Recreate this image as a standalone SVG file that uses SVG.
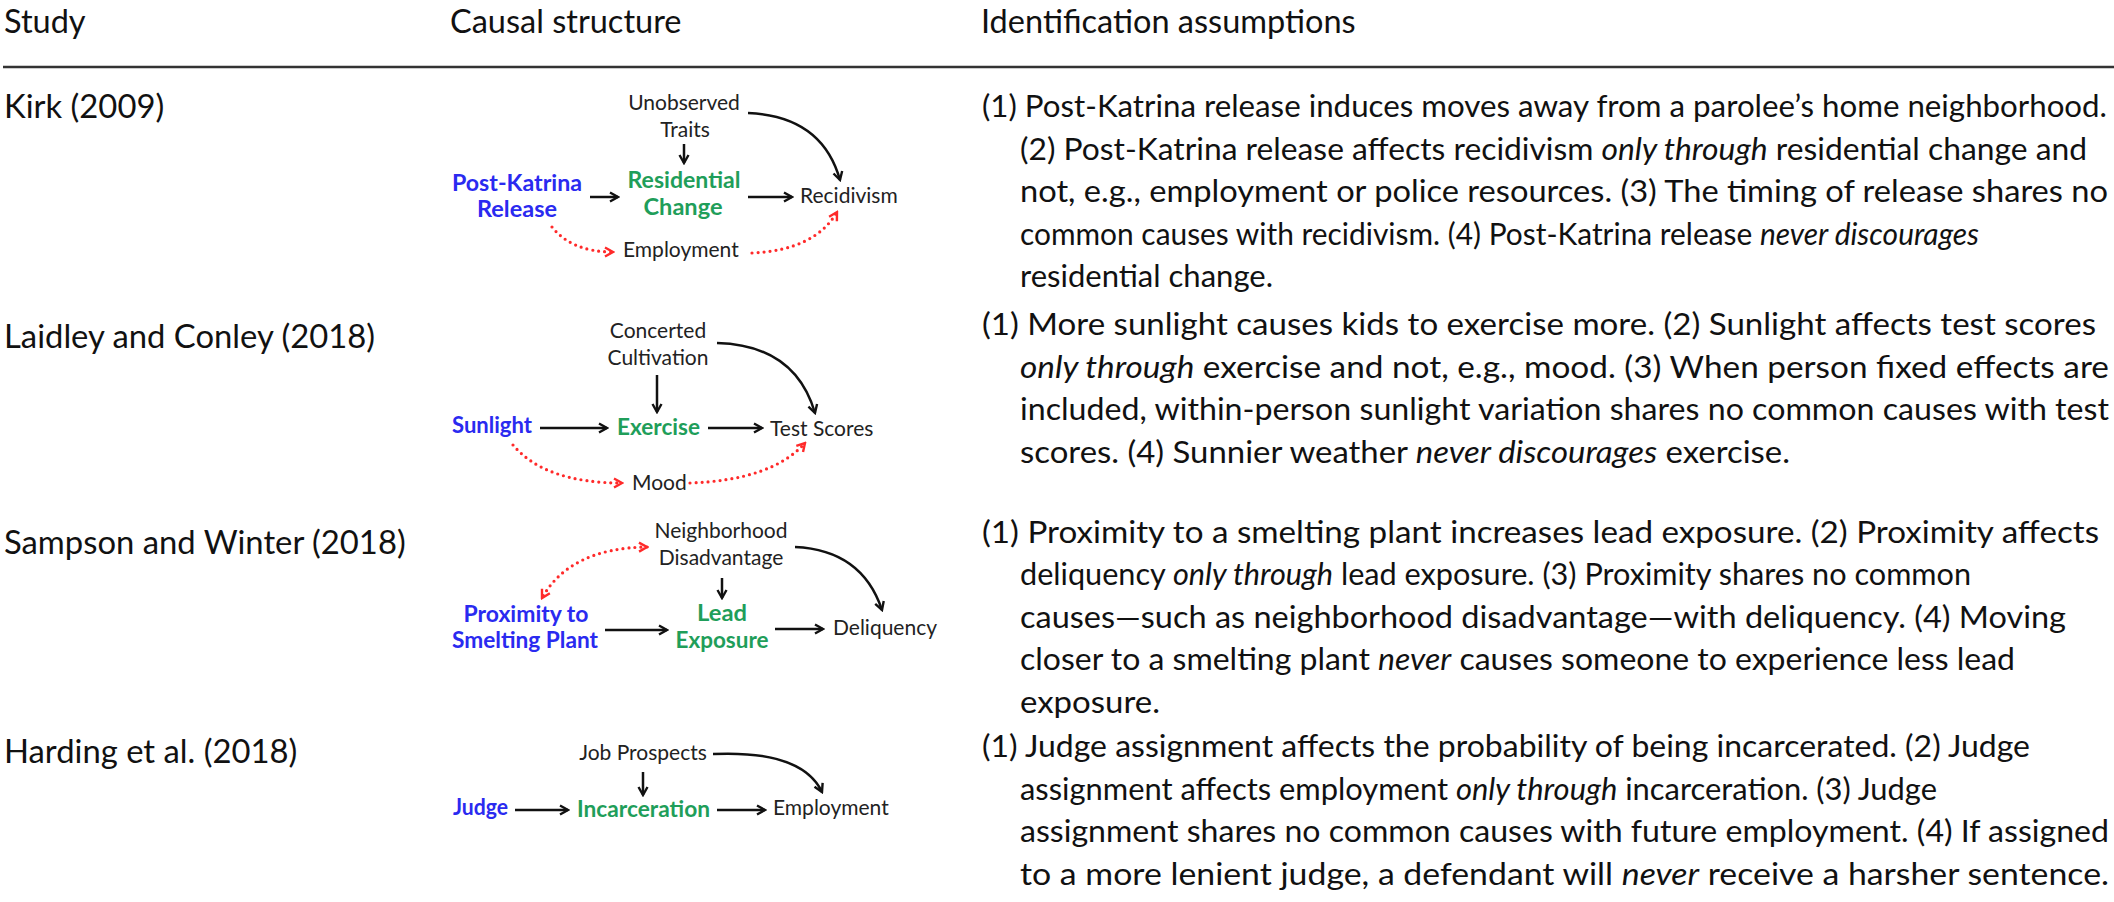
<svg xmlns="http://www.w3.org/2000/svg" width="2114" height="902" viewBox="0 0 2114 902">
<style>
.h{font-family:Lato,"Liberation Sans",sans-serif;font-size:32.5px;fill:#111}
.s{font-family:Lato,"Liberation Sans",sans-serif;font-size:32.8px;fill:#111}
.t{font-family:Lato,"Liberation Sans",sans-serif;font-size:31px;fill:#111}
.n{font-family:Lato,"Liberation Sans",sans-serif;font-size:21px;fill:#222}
.b{font-weight:bold;fill:#2a2af0;font-size:22px}
.g{font-weight:bold;fill:#1f9e5a;font-size:22px}
.c{text-anchor:middle}
.i{font-style:italic}
.k{fill:none;stroke:#111;stroke-width:2.5}
.r{fill:none;stroke:#ff2a2a;stroke-width:3.2;stroke-dasharray:0 6;stroke-linecap:round}
</style>
<defs>
<marker id="ak" viewBox="0 0 12 12" refX="10" refY="6" markerWidth="12" markerHeight="12" markerUnits="userSpaceOnUse" orient="auto-start-reverse"><path d="M2,1.5 L10,6 L2,10.5" fill="none" stroke="#111" stroke-width="2.4"/></marker>
<marker id="ar" viewBox="0 0 12 12" refX="10" refY="6" markerWidth="12" markerHeight="12" markerUnits="userSpaceOnUse" orient="auto-start-reverse"><path d="M2,1.5 L10,6 L2,10.5" fill="none" stroke="#ff2a2a" stroke-width="2.4"/></marker>
</defs>
<rect width="2114" height="902" fill="#fff"/>
<g id="header">
<text class="h" x="4" y="33">Study</text>
<text class="h" x="450" y="33">Causal structure</text>
<text class="h" x="981" y="33">Identification assumptions</text>
<line x1="3" y1="67" x2="2114" y2="67" stroke="#333" stroke-width="2.5"/>
</g>
<g id="studies">
<text class="s" x="4" y="118">Kirk (2009)</text>
<text class="s" x="4" y="348">Laidley and Conley (2018)</text>
<text class="s" x="4" y="554">Sampson and Winter (2018)</text>
<text class="s" x="4" y="763">Harding et al. (2018)</text>
</g>
<g id="n-unobs"><text class="n c" x="684" y="110">Unobserved</text><text class="n c" x="685" y="137">Traits</text></g>
<g id="n-pkr"><text class="n b c" x="517" y="191" textLength="130" lengthAdjust="spacingAndGlyphs">Post-Katrina</text><text class="n b c" x="517" y="217" textLength="80" lengthAdjust="spacingAndGlyphs">Release</text></g>
<g id="n-res"><text class="n g c" x="684" y="188" textLength="113" lengthAdjust="spacingAndGlyphs">Residential</text><text class="n g c" x="683" y="215" textLength="79" lengthAdjust="spacingAndGlyphs">Change</text></g>
<g id="n-recid"><text class="n" x="800" y="203">Recidivism</text></g>
<g id="n-emp1"><text class="n" x="623" y="257">Employment</text></g>
<g id="n-cc"><text class="n c" x="658" y="338">Concerted</text><text class="n c" x="658" y="365">Cultivation</text></g>
<g id="n-sun"><text class="n b" x="452" y="433" textLength="80" lengthAdjust="spacingAndGlyphs">Sunlight</text></g>
<g id="n-ex"><text class="n g" x="617" y="435" textLength="83" lengthAdjust="spacingAndGlyphs">Exercise</text></g>
<g id="n-ts"><text class="n" x="770" y="436">Test Scores</text></g>
<g id="n-mood"><text class="n" x="632" y="490">Mood</text></g>
<g id="n-nd"><text class="n c" x="721" y="538">Neighborhood</text><text class="n c" x="721" y="565">Disadvantage</text></g>
<g id="n-prox"><text class="n b c" x="526" y="622" textLength="125" lengthAdjust="spacingAndGlyphs">Proximity to</text><text class="n b c" x="525" y="648" textLength="146" lengthAdjust="spacingAndGlyphs">Smelting Plant</text></g>
<g id="n-lead"><text class="n g c" x="722" y="621" textLength="50" lengthAdjust="spacingAndGlyphs">Lead</text><text class="n g c" x="722" y="648" textLength="93" lengthAdjust="spacingAndGlyphs">Exposure</text></g>
<g id="n-del"><text class="n" x="833" y="635">Deliquency</text></g>
<g id="n-job"><text class="n c" x="643" y="760">Job Prospects</text></g>
<g id="n-judge"><text class="n b" x="453" y="815" textLength="55" lengthAdjust="spacingAndGlyphs">Judge</text></g>
<g id="n-inc"><text class="n g" x="577" y="817" textLength="133" lengthAdjust="spacingAndGlyphs">Incarceration</text></g>
<g id="n-emp2"><text class="n" x="773" y="815">Employment</text></g>
<g id="connectors">
<path class="k" d="M684,144 V163" marker-end="url(#ak)"/>
<path class="k" d="M590,197 H618" marker-end="url(#ak)"/>
<path class="k" d="M748,197 H792" marker-end="url(#ak)"/>
<path class="k" d="M748,113 Q822,116 840,180" marker-end="url(#ak)"/>
<path class="r" d="M552,227 Q572,252 613,252" marker-end="url(#ar)"/>
<path class="r" d="M752,253 Q815,250 837,212" marker-end="url(#ar)"/>
<path class="k" d="M657,375 V412" marker-end="url(#ak)"/>
<path class="k" d="M540,428 H607" marker-end="url(#ak)"/>
<path class="k" d="M708,428 H762" marker-end="url(#ak)"/>
<path class="k" d="M717,343 Q795,345 815,413" marker-end="url(#ak)"/>
<path class="r" d="M513,445 Q545,483 622,483" marker-end="url(#ar)"/>
<path class="r" d="M690,483 Q772,480 805,443" marker-end="url(#ar)"/>
<path class="k" d="M722,578 V598" marker-end="url(#ak)"/>
<path class="k" d="M605,630 H667" marker-end="url(#ak)"/>
<path class="k" d="M775,629 H823" marker-end="url(#ak)"/>
<path class="k" d="M795,547 Q862,550 882,610" marker-end="url(#ak)"/>
<path class="r" d="M647,547 Q570,548 542,598" marker-start="url(#ar)" marker-end="url(#ar)"/>
<path class="k" d="M713,754 Q802,750 822,792" marker-end="url(#ak)"/>
<path class="k" d="M643,772 V795" marker-end="url(#ak)"/>
<path class="k" d="M515,810 H568" marker-end="url(#ak)"/>
<path class="k" d="M717,810 H765" marker-end="url(#ak)"/>
</g>
<g id="assumptions">
<text class="t" x="982" y="117" textLength="1125" lengthAdjust="spacingAndGlyphs">(1) Post-Katrina release induces moves away from a parolee’s home neighborhood.</text>
<text class="t" x="1020" y="160" textLength="1067" lengthAdjust="spacingAndGlyphs">(2) Post-Katrina release affects recidivism <tspan class="i">only through</tspan> residential change and</text>
<text class="t" x="1020" y="202" textLength="1088" lengthAdjust="spacingAndGlyphs">not, e.g., employment or police resources. (3) The timing of release shares no</text>
<text class="t" x="1020" y="245" textLength="959" lengthAdjust="spacingAndGlyphs">common causes with recidivism. (4) Post-Katrina release <tspan class="i">never discourages</tspan></text>
<text class="t" x="1020" y="287" textLength="253" lengthAdjust="spacingAndGlyphs">residential change.</text>
<text class="t" x="982" y="335" textLength="1114" lengthAdjust="spacingAndGlyphs">(1) More sunlight causes kids to exercise more. (2) Sunlight affects test scores</text>
<text class="t" x="1020" y="378" textLength="1089" lengthAdjust="spacingAndGlyphs"><tspan class="i">only through</tspan> exercise and not, e.g., mood. (3) When person fixed effects are</text>
<text class="t" x="1020" y="420" textLength="1089" lengthAdjust="spacingAndGlyphs">included, within-person sunlight variation shares no common causes with test</text>
<text class="t" x="1020" y="463" textLength="770" lengthAdjust="spacingAndGlyphs">scores. (4) Sunnier weather <tspan class="i">never discourages</tspan> exercise.</text>
<text class="t" x="982" y="543" textLength="1117" lengthAdjust="spacingAndGlyphs">(1) Proximity to a smelting plant increases lead exposure. (2) Proximity affects</text>
<text class="t" x="1020" y="585" textLength="951" lengthAdjust="spacingAndGlyphs">deliquency <tspan class="i">only through</tspan> lead exposure. (3) Proximity shares no common</text>
<text class="t" x="1020" y="628" textLength="1046" lengthAdjust="spacingAndGlyphs">causes—such as neighborhood disadvantage—with deliquency. (4) Moving</text>
<text class="t" x="1020" y="670" textLength="995" lengthAdjust="spacingAndGlyphs">closer to a smelting plant <tspan class="i">never</tspan> causes someone to experience less lead</text>
<text class="t" x="1020" y="713" textLength="140" lengthAdjust="spacingAndGlyphs">exposure.</text>
<text class="t" x="982" y="757" textLength="1048" lengthAdjust="spacingAndGlyphs">(1) Judge assignment affects the probability of being incarcerated. (2) Judge</text>
<text class="t" x="1020" y="800" textLength="917" lengthAdjust="spacingAndGlyphs">assignment affects employment <tspan class="i">only through</tspan> incarceration. (3) Judge</text>
<text class="t" x="1020" y="842" textLength="1089" lengthAdjust="spacingAndGlyphs">assignment shares no common causes with future employment. (4) If assigned</text>
<text class="t" x="1020" y="885" textLength="1089" lengthAdjust="spacingAndGlyphs">to a more lenient judge, a defendant will <tspan class="i">never</tspan> receive a harsher sentence.</text>
</g>
</svg>
